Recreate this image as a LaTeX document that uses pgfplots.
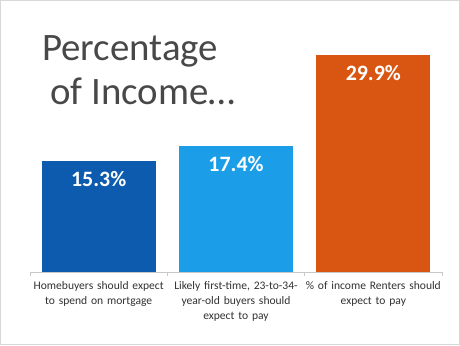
\documentclass[border=0pt]{standalone}
\usepackage{pgfplots}
\pgfplotsset{compat=1.18}
\usepackage{fontspec}
\setmainfont{Carlito}
\definecolor{dblue}{RGB}{12,91,174}
\definecolor{lblue}{RGB}{27,157,232}
\definecolor{orng}{RGB}{217,86,18}
\definecolor{titlegray}{RGB}{72,72,72}
\definecolor{labgray}{RGB}{50,50,50}
\definecolor{axgray}{RGB}{200,200,200}
\begin{document}
\begin{tikzpicture}[x=1bp,y=1bp]
\useasboundingbox (0,0) rectangle (460,345);
\fill[white] (0,0) rectangle (460,345);
\draw[axgray!70, line width=1bp] (0.5,0.5) rectangle (459.5,344.5);
\node[anchor=base west, inner sep=0, text=titlegray, font=\fontsize{39}{46}\selectfont] at (42,285) {Percentage};
\node[anchor=base west, inner sep=0, text=titlegray, font=\fontsize{39}{46}\selectfont] at (50,241) {of Income…};
\begin{axis}[
  at={(30bp,73bp)}, anchor=south west,
  scale only axis, width=412bp, height=217.8bp,
  xmin=-0.5, xmax=2.5, ymin=0, ymax=30,
  enlargelimits=false, clip=false,
  axis x line*=bottom, axis y line=none,
  axis line style={-, draw=axgray, line width=0.8bp},
  xtick={0,1,2},
  xticklabels={{Homebuyers should expect\\to spend on mortgage},{Likely first-time, 23-to-34-\\year-old buyers should\\expect to pay},{\% of income Renters should\\expect to pay}},
  major x tick style={draw=none},
  minor xtick={-0.5,0.5,1.5,2.5},
  minor x tick style={draw=axgray, line width=0.8bp},
  minor tick length=4bp,
  tick align=outside,
  xticklabel style={text width=140bp, align=center, text=labgray, font=\fontsize{11.6}{15}\selectfont, yshift=-2bp},
  ybar, bar width=114bp, bar shift=0pt,
  nodes near coords, point meta=explicit symbolic,
  every node near coord/.append style={anchor=center, yshift=-18bp, text=white, font=\bfseries\fontsize{22}{26}\selectfont},
]
\addplot[fill=dblue, draw=none] coordinates {(0,15.3) [15.3\%]};
\addplot[fill=lblue, draw=none] coordinates {(1,17.4) [17.4\%]};
\addplot[fill=orng, draw=none] coordinates {(2,29.9) [29.9\%]};
\end{axis}
\end{tikzpicture}
\end{document}
